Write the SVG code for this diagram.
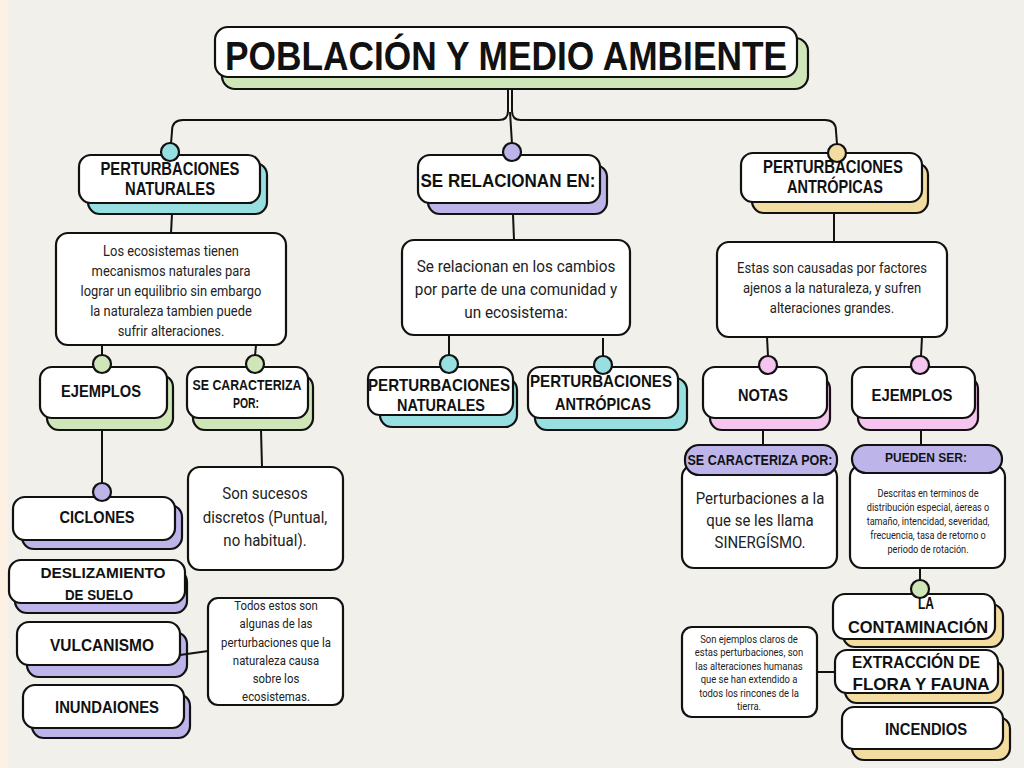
<svg xmlns="http://www.w3.org/2000/svg" width="1024" height="768" viewBox="0 0 1024 768">
<style>
.bx{fill:#fff;stroke:#111;stroke-width:2.2}
.sg{fill:#cfe6b8;stroke:#111;stroke-width:2.2}
.st{fill:#97dfe0;stroke:#111;stroke-width:2.2}
.sp{fill:#bdb5ea;stroke:#111;stroke-width:2.2}
.sy{fill:#f3dca0;stroke:#111;stroke-width:2.2}
.sk{fill:#f6c5ef;stroke:#111;stroke-width:2.2}
.h{font-family:"Liberation Sans",Arial,sans-serif;font-weight:bold;fill:#111;text-anchor:middle}
.p{font-family:Roboto,"Liberation Sans",Arial,sans-serif;fill:#222;text-anchor:middle}
.ln{fill:none;stroke:#111;stroke-width:2}
</style>
<rect x="0" y="0" width="1024" height="768" fill="#f1f0ea"/>
<rect x="0" y="0" width="8" height="768" fill="#fcf1e3"/>

<g id="title">
<rect class="sg" x="222" y="38" width="586" height="51" rx="13"/>
<rect class="bx" x="215" y="27" width="582" height="50" rx="13"/>
<text class="h" x="506" y="70" font-size="40" textLength="562" lengthAdjust="spacingAndGlyphs">POBLACIÓN Y MEDIO AMBIENTE</text>
</g>

<g id="pert-naturales">
<rect class="st" x="88" y="163" width="179" height="51" rx="12"/>
<rect class="bx" x="79" y="155" width="181" height="48" rx="12"/>
<text class="h" font-size="18"><tspan x="170" y="175" textLength="139" lengthAdjust="spacingAndGlyphs">PERTURBACIONES</tspan><tspan x="170" y="195" textLength="90" lengthAdjust="spacingAndGlyphs">NATURALES</tspan></text>
</g>

<g id="texto-naturales">
<rect class="bx" x="56" y="233" width="230" height="112" rx="12"/>
<text class="p" font-size="14" transform="translate(171 0) scale(0.92 1)"><tspan x="0" y="256">Los ecosistemas tienen</tspan><tspan x="0" y="276">mecanismos naturales para</tspan><tspan x="0" y="296">lograr un equilibrio sin embargo</tspan><tspan x="0" y="316">la naturaleza tambien puede</tspan><tspan x="0" y="336">sufrir alteraciones.</tspan></text>
</g>

<g id="ejemplos-izq">
<rect class="sg" x="47" y="375" width="126" height="55" rx="12"/>
<rect class="bx" x="40" y="367" width="127" height="51" rx="12"/>
<text class="h" x="101" y="397" font-size="17" textLength="80" lengthAdjust="spacingAndGlyphs">EJEMPLOS</text>
</g>

<g id="caracteriza-izq">
<rect class="sg" x="193" y="375" width="120" height="55" rx="12"/>
<rect class="bx" x="187" y="367" width="121" height="51" rx="12"/>
<text class="h" font-size="14"><tspan x="247" y="390" textLength="109" lengthAdjust="spacingAndGlyphs">SE CARACTERIZA</tspan><tspan x="246" y="408" textLength="26" lengthAdjust="spacingAndGlyphs">POR:</tspan></text>
</g>

<g id="sucesos">
<rect class="bx" x="188" y="467" width="155" height="103" rx="12"/>
<text class="p" font-size="16.5" transform="translate(265 0) scale(0.91 1)"><tspan x="0" y="499">Son sucesos</tspan><tspan x="0" y="523">discretos (Puntual,</tspan><tspan x="0" y="546">no habitual).</tspan></text>
</g>

<g id="ciclones">
<rect class="sp" x="22" y="505" width="160" height="44" rx="12"/>
<rect class="bx" x="13" y="497" width="162" height="43" rx="12"/>
<text class="h" x="97" y="523" font-size="16" textLength="75" lengthAdjust="spacingAndGlyphs">CICLONES</text>
</g>

<g id="deslizamiento">
<rect class="sp" x="15" y="570" width="172" height="43" rx="12"/>
<rect class="bx" x="9" y="560" width="176" height="43" rx="12"/>
<text class="h" font-size="15"><tspan x="103" y="578" textLength="125" lengthAdjust="spacingAndGlyphs">DESLIZAMIENTO</tspan><tspan x="99" y="600" textLength="68" lengthAdjust="spacingAndGlyphs">DE SUELO</tspan></text>
</g>

<g id="vulcanismo">
<rect class="sp" x="27" y="632" width="160" height="45" rx="12"/>
<rect class="bx" x="17" y="622" width="163" height="43" rx="12"/>
<text class="h" x="102" y="651" font-size="17" textLength="104" lengthAdjust="spacingAndGlyphs">VULCANISMO</text>
</g>

<g id="inundaciones">
<rect class="sp" x="32" y="694" width="158" height="44" rx="12"/>
<rect class="bx" x="23" y="685" width="161" height="43" rx="12"/>
<text class="h" x="107" y="713" font-size="16" textLength="104" lengthAdjust="spacingAndGlyphs">INUNDAIONES</text>
</g>

<g id="nota-izq">
<rect class="bx" x="208" y="598" width="135" height="107" rx="10"/>
<text class="p" font-size="12" transform="translate(276 0) scale(0.95 1)"><tspan x="0" y="610">Todos estos son</tspan><tspan x="0" y="628.5">algunas de las</tspan><tspan x="0" y="647">perturbaciones que la</tspan><tspan x="0" y="665">naturaleza causa</tspan><tspan x="0" y="683">sobre los</tspan><tspan x="0" y="701">ecosistemas.</tspan></text>
</g>

<g id="se-relacionan">
<rect class="sp" x="428" y="165" width="179" height="49" rx="12"/>
<rect class="bx" x="418" y="155" width="182" height="48" rx="12"/>
<text class="h" x="508" y="187" font-size="19" textLength="175" lengthAdjust="spacingAndGlyphs">SE RELACIONAN EN:</text>
</g>

<g id="texto-relacion">
<rect class="bx" x="402" y="240" width="228" height="95" rx="12"/>
<text class="p" font-size="17" transform="translate(516 0) scale(0.9 1)"><tspan x="0" y="272">Se relacionan en los cambios</tspan><tspan x="0" y="295">por parte de una comunidad y</tspan><tspan x="0" y="318">un ecosistema:</tspan></text>
</g>

<g id="mid-naturales">
<rect class="st" x="380" y="378" width="137" height="49" rx="12"/>
<rect class="bx" x="368" y="367" width="145" height="48" rx="12"/>
<text class="h" font-size="17"><tspan x="439" y="391" textLength="142" lengthAdjust="spacingAndGlyphs">PERTURBACIONES</tspan><tspan x="441" y="411" textLength="88" lengthAdjust="spacingAndGlyphs">NATURALES</tspan></text>
</g>

<g id="mid-antropicas">
<rect class="st" x="535" y="378" width="152" height="52" rx="12"/>
<rect class="bx" x="528" y="367" width="150" height="51" rx="12"/>
<text class="h" font-size="17"><tspan x="601" y="387" textLength="142" lengthAdjust="spacingAndGlyphs">PERTURBACIONES</tspan><tspan x="603" y="410" textLength="96" lengthAdjust="spacingAndGlyphs">ANTRÓPICAS</tspan></text>
</g>

<g id="pert-antropicas">
<rect class="sy" x="752" y="163" width="176" height="50" rx="12"/>
<rect class="bx" x="741" y="153" width="181" height="49" rx="12"/>
<text class="h" font-size="18"><tspan x="833" y="173" textLength="140" lengthAdjust="spacingAndGlyphs">PERTURBACIONES</tspan><tspan x="835" y="193" textLength="96" lengthAdjust="spacingAndGlyphs">ANTRÓPICAS</tspan></text>
</g>

<g id="texto-antropicas">
<rect class="bx" x="717" y="242" width="230" height="95" rx="12"/>
<text class="p" font-size="14.5" transform="translate(832 0) scale(0.9 1)"><tspan x="0" y="273">Estas son causadas por factores</tspan><tspan x="0" y="293">ajenos a la naturaleza, y sufren</tspan><tspan x="0" y="313">alteraciones grandes.</tspan></text>
</g>

<g id="notas">
<rect class="sk" x="710" y="377" width="120" height="53" rx="12"/>
<rect class="bx" x="703" y="367" width="124" height="51" rx="12"/>
<text class="h" x="763" y="401" font-size="17" textLength="50" lengthAdjust="spacingAndGlyphs">NOTAS</text>
</g>

<g id="ejemplos-der">
<rect class="sk" x="858" y="377" width="120" height="53" rx="12"/>
<rect class="bx" x="852" y="367" width="123" height="51" rx="12"/>
<text class="h" x="912" y="401" font-size="17" textLength="81" lengthAdjust="spacingAndGlyphs">EJEMPLOS</text>
</g>

<g id="caracteriza-der">
<rect class="bx" x="682" y="465" width="155" height="103" rx="12"/>
<rect class="sp" x="685" y="445" width="152" height="30" rx="14"/>
<text class="h" x="760" y="465" font-size="14" textLength="145" lengthAdjust="spacingAndGlyphs">SE CARACTERIZA POR:</text>
<text class="p" font-size="17" transform="translate(760 0) scale(0.88 1)"><tspan x="0" y="504">Perturbaciones a la</tspan><tspan x="0" y="526">que se les llama</tspan><tspan x="0" y="548">SINERGÍSMO.</tspan></text>
</g>

<g id="pueden-ser">
<rect class="bx" x="850" y="465" width="155" height="103" rx="12"/>
<rect class="sp" x="852" y="445" width="150" height="28" rx="14"/>
<text class="h" x="926" y="462" font-size="13" textLength="82" lengthAdjust="spacingAndGlyphs">PUEDEN SER:</text>
<text class="p" font-size="10.5" transform="translate(928 0) scale(0.87 1)"><tspan x="0" y="497">Descritas en terminos de</tspan><tspan x="0" y="511">distribución especial, áereas o</tspan><tspan x="0" y="525">tamaño, intencidad, severidad,</tspan><tspan x="0" y="539">frecuencia, tasa de retorno o</tspan><tspan x="0" y="553">periodo de rotación.</tspan></text>
</g>

<g id="contaminacion">
<rect class="sy" x="843" y="604" width="160" height="43" rx="12"/>
<rect class="bx" x="833" y="594" width="162" height="45" rx="12"/>
<text class="h" font-size="16"><tspan x="926" y="609" textLength="16" lengthAdjust="spacingAndGlyphs">LA</tspan><tspan x="918" y="633" textLength="140" lengthAdjust="spacingAndGlyphs">CONTAMINACIÓN</tspan></text>
</g>

<g id="extraccion">
<rect class="sy" x="845" y="660" width="158" height="43" rx="12"/>
<rect class="bx" x="835" y="650" width="163" height="43" rx="12"/>
<text class="h" font-size="17"><tspan x="916" y="668" textLength="128" lengthAdjust="spacingAndGlyphs">EXTRACCIÓN DE</tspan><tspan x="921" y="690" textLength="137" lengthAdjust="spacingAndGlyphs">FLORA Y FAUNA</tspan></text>
</g>

<g id="incendios">
<rect class="sy" x="852" y="717" width="158" height="43" rx="12"/>
<rect class="bx" x="842" y="707" width="161" height="42" rx="12"/>
<text class="h" x="926" y="735" font-size="17" textLength="82" lengthAdjust="spacingAndGlyphs">INCENDIOS</text>
</g>

<g id="nota-der">
<rect class="bx" x="682" y="627" width="135" height="90" rx="10"/>
<text class="p" font-size="10.5" transform="translate(749 0) scale(0.9 1)"><tspan x="0" y="643">Son ejemplos claros de</tspan><tspan x="0" y="656.5">estas perturbaciones, son</tspan><tspan x="0" y="670">las alteraciones humanas</tspan><tspan x="0" y="683.5">que se han extendido a</tspan><tspan x="0" y="697">todos los rincones de la</tspan><tspan x="0" y="710.5">tierra.</tspan></text>
</g>

<g id="connectors">
<path class="ln" d="M508,89 L508,111 Q508,120 499,120 L183,120 Q172,120 172,131 L171,144"/>
<path class="ln" d="M512,89 L512,111 Q512,120 521,120 L825,120 Q836,120 836,131 L837,144"/>
<path class="ln" d="M510,112 L512,144"/>
<path class="ln" d="M172,214 L171,233"/>
<path class="ln" d="M102,345 L102,356"/>
<path class="ln" d="M256,345 L255,356"/>
<path class="ln" d="M102,430 L102,484"/>
<path class="ln" d="M261,430 L262,467"/>
<path class="ln" d="M180,655 L208,651"/>
<path class="ln" d="M513,214 L514,240"/>
<path class="ln" d="M449,335 L449,356"/>
<path class="ln" d="M603,338 L603,356"/>
<path class="ln" d="M834,213 L834,242"/>
<path class="ln" d="M767,337 L768,356"/>
<path class="ln" d="M922,337 L921,356"/>
<path class="ln" d="M763,430 L763,445"/>
<path class="ln" d="M921,430 L921,445"/>
<path class="ln" d="M920,568 L920,580"/>
<path class="ln" d="M817,672 L835,672"/>
<circle class="st" cx="170" cy="152" r="9"/>
<circle class="sp" cx="512" cy="152" r="9"/>
<circle class="sy" cx="837" cy="153" r="9"/>
<circle class="sg" cx="102" cy="364" r="9"/>
<circle class="sg" cx="255" cy="364" r="9"/>
<circle class="sp" cx="102" cy="492" r="9"/>
<circle class="st" cx="449" cy="364" r="9"/>
<circle class="st" cx="603" cy="365" r="9"/>
<circle class="sk" cx="768" cy="365" r="9"/>
<circle class="sk" cx="920" cy="365" r="9"/>
<circle class="sg" cx="920" cy="589" r="9"/>
</g>
</svg>
